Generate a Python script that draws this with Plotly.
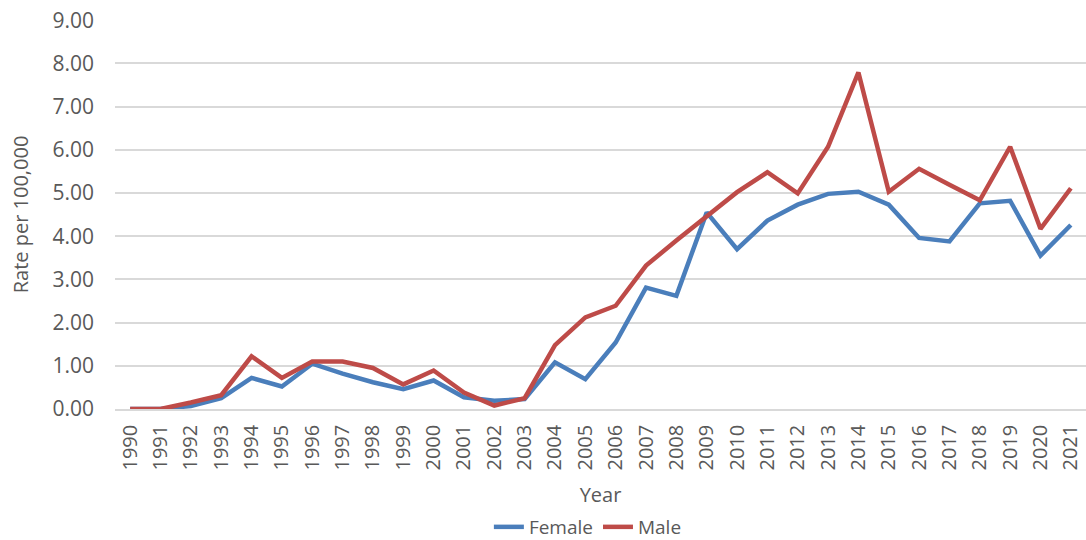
import plotly.graph_objects as go

years = [str(y) for y in range(1990, 2022)]
female = [0.00, 0.00, 0.07, 0.25, 0.72, 0.52, 1.05, 0.82, 0.62, 0.46, 0.66, 0.27, 0.19, 0.23,
          1.08, 0.69, 1.54, 2.81, 2.62, 4.55, 3.70, 4.36, 4.73, 4.98, 5.03, 4.73, 3.96, 3.88,
          4.76, 4.82, 3.55, 4.26]
male = [0.00, 0.00, 0.15, 0.32, 1.22, 0.72, 1.10, 1.10, 0.95, 0.57, 0.89, 0.38, 0.08, 0.25,
        1.48, 2.12, 2.39, 3.32, 3.90, 4.47, 5.02, 5.48, 4.99, 6.07, 7.79, 5.03, 5.56, 5.19,
        4.83, 6.07, 4.17, 5.11]
y_ticks = [0, 1, 2, 3, 4, 5, 6, 7, 8, 9]

font_family = "Open Sans, Liberation Sans, sans-serif"
grey = "#595959"

W, H = 1086, 540

fig = go.Figure()
fig.add_trace(go.Scatter(x=years, y=female, mode="lines", name="Female",
                         line=dict(color="#4A7EBB", width=4.5)))
fig.add_trace(go.Scatter(x=years, y=male, mode="lines", name="Male",
                         line=dict(color="#BE4B48", width=4.5)))

fig.update_layout(
    width=W, height=H,
    margin=dict(l=115, r=0, t=20, b=131, autoexpand=False),
    paper_bgcolor="white", plot_bgcolor="white",
    font=dict(family=font_family, color=grey, size=18),
    showlegend=True,
    legend=dict(orientation="h", x=0.487, xanchor="center",
                yref="container", y=(H - 527) / H, yanchor="middle",
                font=dict(size=19, color=grey), tracegroupgap=0,
                itemwidth=30),
)
fig.update_xaxes(
    type="category", range=[-0.5, len(years) - 0.5],
    tickangle=-90, tickfont=dict(size=20, color=grey),
    ticks="outside", ticklen=6, tickcolor="rgba(0,0,0,0)",
    showgrid=False, showline=True, linecolor="#D9D9D9", linewidth=1.5,
    automargin=False,
    title=dict(text="Year", font=dict(size=20, color=grey), standoff=29),
)
fig.update_yaxes(
    range=[0, 9.004], tickvals=y_ticks, ticktext=[f"{v:.2f}" for v in y_ticks],
    tickfont=dict(size=21, color=grey), ticklabelstandoff=20,
    ticklabeloverflow="allow",
    showgrid=True, gridcolor="#D9D9D9", gridwidth=1.5,
    zeroline=False, showline=False, ticks="", automargin=False,
    title=dict(text="Rate per 100,000", font=dict(size=20, color=grey), standoff=18),
)

fig.write_html("out.html", config={"displayModeBar": False},
               post_script="document.body.style.margin='0px';")
